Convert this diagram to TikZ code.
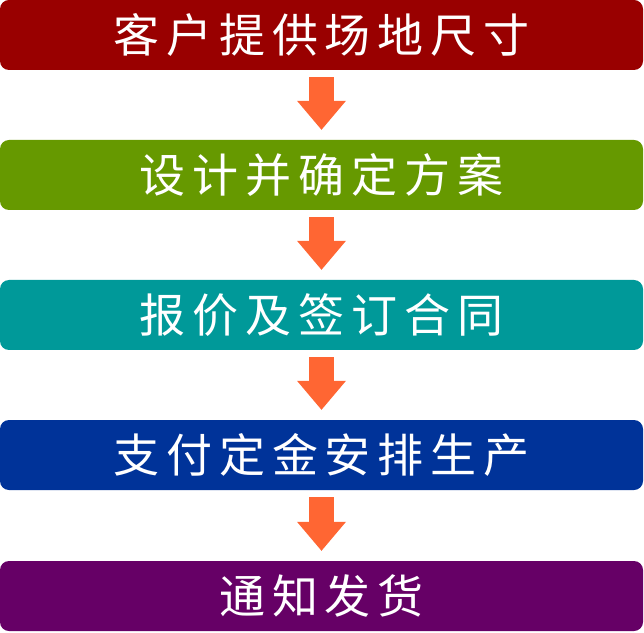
\documentclass[tikz,border=0pt]{standalone}
\usepackage{fontspec}
\newfontfamily\cjk{Noto Sans CJK SC}[LetterSpace=15.0]
\usepackage{tikz}
\usetikzlibrary{arrows.meta,positioning}
\definecolor{stepred}{HTML}{990000}
\definecolor{stepgreen}{HTML}{669900}
\definecolor{stepteal}{HTML}{009999}
\definecolor{stepblue}{HTML}{003399}
\definecolor{steppurple}{HTML}{660066}
\definecolor{flowarrow}{HTML}{FF6633}

\begin{document}
\begin{tikzpicture}[x = 1pt, y = 1pt,
  stepbox/.style = {rounded corners = 9pt, minimum width = 643pt, minimum height = 70pt,
    inner sep = 0pt, text = white, font = \cjk\fontsize{46}{50}\selectfont},
  flow/.style = {draw = flowarrow, line width = 25pt,
    -{Triangle[width = 49pt, length = 29pt, line width = 0pt]}}]
\useasboundingbox (0,0) rectangle (644,632);
\node[stepbox, fill = stepred] (site) at (321.5,597) {客户提供场地尺寸};
\node[stepbox, fill = stepgreen] (design) at (321.5,457) {设计并确定方案};
\node[stepbox, fill = stepteal] (quote) at (321.5,317) {报价及签订合同};
\node[stepbox, fill = stepblue] (deposit) at (321.5,177) {支付定金安排生产};
\node[stepbox, fill = steppurple] (ship) at (321.5,36) {通知发货};
\draw[flow] ([yshift = -7pt]site.south) -- ([yshift = 10pt]design.north);
\draw[flow] ([yshift = -7pt]design.south) -- ([yshift = 10pt]quote.north);
\draw[flow] ([yshift = -7pt]quote.south) -- ([yshift = 10pt]deposit.north);
\draw[flow] ([yshift = -7pt]deposit.south) -- ([yshift = 10pt]ship.north);
\end{tikzpicture}
\end{document}
